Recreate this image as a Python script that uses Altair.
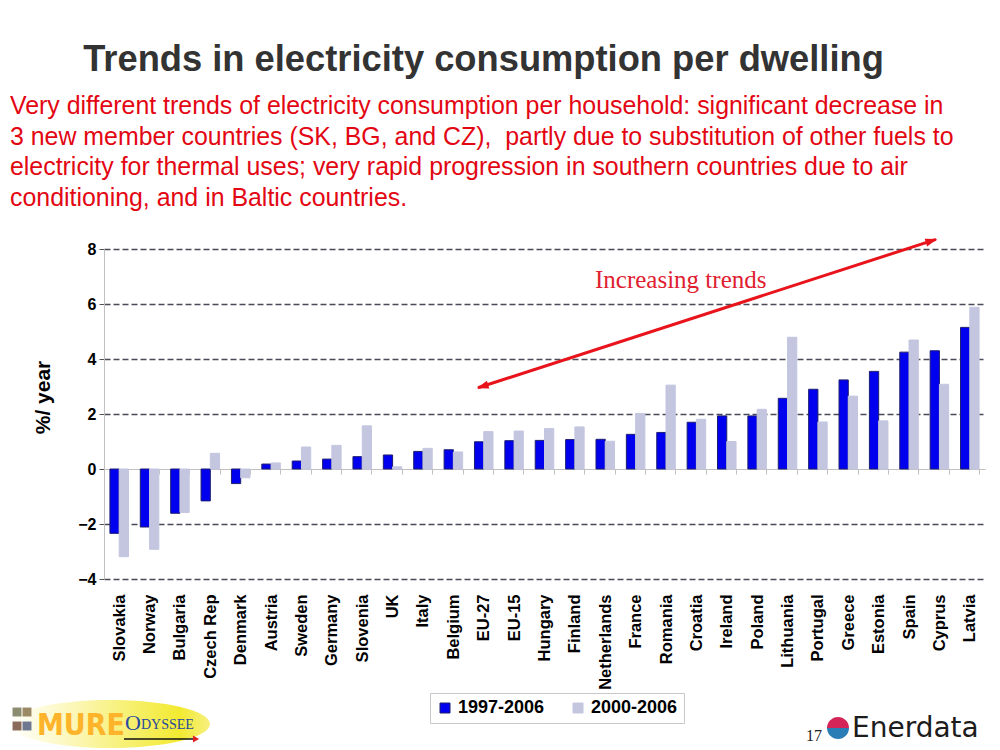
import altair as alt
import pandas as pd

countries = ["Slovakia", "Norway", "Bulgaria", "Czech Rep", "Denmark", "Austria", "Sweden",
             "Germany", "Slovenia", "UK", "Italy", "Belgium", "EU-27", "EU-15", "Hungary",
             "Finland", "Netherlands", "France", "Romania", "Croatia", "Ireland", "Poland",
             "Lithuania", "Portugal", "Greece", "Estonia", "Spain", "Cyprus", "Latvia"]
v1997 = [-2.34, -2.11, -1.61, -1.16, -0.53, 0.18, 0.29, 0.36, 0.45, 0.51, 0.64, 0.70, 0.99,
         1.03, 1.04, 1.07, 1.08, 1.26, 1.33, 1.70, 1.93, 1.93, 2.57, 2.90, 3.24, 3.55, 4.25,
         4.30, 5.15]
v2000 = [-3.19, -2.92, -1.58, 0.57, -0.32, 0.22, 0.80, 0.86, 1.57, 0.08, 0.75, 0.62, 1.36,
         1.38, 1.47, 1.53, 1.01, 2.02, 3.05, 1.81, 1.00, 2.17, 4.79, 1.71, 2.65, 1.75, 4.69,
         3.08, 5.88]
periods = ["1997-2006", "2000-2006"]
y_ticks = [-4, -2, 0, 2, 4, 6, 8]

title_text = "Trends in electricity consumption per dwelling"
subtitle_lines = [
    "Very different trends of electricity consumption per household: significant decrease in",
    "3 new member countries (SK, BG, and CZ),\u00a0 partly due to substitution of other fuels to",
    "electricity for thermal uses; very rapid progression in southern countries due to air",
    "conditioning, and in Baltic countries.",
]
annotation_text = "Increasing trends"
y_title = "%/ year"

rows = []
for c, a, b in zip(countries, v1997, v2000):
    rows.append({"country": c, "period": periods[0], "value": a})
    rows.append({"country": c, "period": periods[1], "value": b})
df = pd.DataFrame(rows)
one = pd.DataFrame({"k": [0]})

FONT = "Liberation Sans"
RED = "#E8131B"
BLUE = "#0000EE"
GREY = "#C4C6E0"

legend_cfg = dict(orient="none", legendX=326, legendY=444, direction="horizontal", title=None,
                  fillColor="white", strokeColor="#c8c8c8", padding=6, symbolType="square",
                  symbolSize=100, labelFont=FONT, labelFontSize=18, labelFontWeight="bold",
                  labelColor="black", columnPadding=24, symbolStrokeWidth=1, labelOffset=4)

bars = alt.Chart(df).mark_bar(strokeWidth=1).encode(
    x=alt.X("country:N", sort=countries,
            scale=alt.Scale(paddingInner=0.39, paddingOuter=0.195),
            axis=alt.Axis(title=None, labelAngle=-90, labelFont=FONT, labelFontSize=16.5,
                          labelFontWeight="bold", labelColor="black", offset=-110,
                          domainColor="#c0c0c0", tickColor="#c0c0c0", tickSize=5,
                          tickBand="extent", labelPadding=120, labelAlign="right",
                          labelBaseline="middle", labelOverlap=False, labelLimit=300,
                          grid=False)),
    xOffset=alt.XOffset("period:N", sort=periods,
                        scale=alt.Scale(paddingInner=0, paddingOuter=0)),
    y=alt.Y("value:Q", scale=alt.Scale(domain=[-4, 8], nice=False),
            axis=alt.Axis(values=y_ticks, title=y_title, titleFont=FONT, titleFontSize=21,
                          titleFontWeight="bold", titleColor="black", titleX=-61, titleY=148,
                          titleAlign="center", titleBaseline="middle", titleAngle=270,
                          labelFont=FONT, labelFontSize=16, labelFontWeight="bold",
                          labelColor="black", labelPadding=3, tickSize=5, tickColor="#555555",
                          domainColor="#c0c0c0", grid=True, gridDash=[6, 3], gridWidth=1.3,
                          gridColor={"condition": {"test": "datum.value === 0",
                                                   "value": "transparent"},
                                     "value": "#4a4a5a"})),
    fill=alt.Fill("period:N", sort=periods,
                  scale=alt.Scale(domain=periods, range=[BLUE, GREY]),
                  legend=alt.Legend(**legend_cfg)),
    stroke=alt.Stroke("period:N", sort=periods,
                      scale=alt.Scale(domain=periods, range=["#1E1E70", GREY]),
                      legend=alt.Legend(**legend_cfg)),
)

title = alt.Chart(one).mark_text(text=title_text, font=FONT, fontSize=36.3, fontWeight="bold",
                                 color="#333333", align="center", baseline="alphabetic").encode(
    x=alt.value(379.5), y=alt.value(-178))

subtitle = alt.Chart(one).mark_text(text=subtitle_lines, font=FONT, fontSize=24.9,
                                    color="#E30613", align="left", baseline="alphabetic",
                                    lineHeight=30.7).encode(
    x=alt.value(-94), y=alt.value(-135))

arrow_line = alt.Chart(one).mark_rule(color=RED, strokeWidth=3).encode(
    x=alt.value(374), y=alt.value(138.8), x2=alt.value(832), y2=alt.value(-9.6))

head_path = "M0,0 L0.8,2.4 L-0.8,2.4 Z"
head_r = alt.Chart(one).mark_point(shape=head_path, size=100, filled=True, color=RED,
                                   opacity=1, angle=72.2).encode(
    x=alt.value(833.3), y=alt.value(-10))
head_l = alt.Chart(one).mark_point(shape=head_path, size=100, filled=True, color=RED,
                                   opacity=1, angle=252.2).encode(
    x=alt.value(372.7), y=alt.value(139.3))

annot = alt.Chart(one).mark_text(text=annotation_text, font="Liberation Serif", fontSize=25,
                                 color="#E02030", align="left", baseline="alphabetic").encode(
    x=alt.value(491), y=alt.value(39))

# MURE / ODYSSEE logo
grad = alt.LinearGradient(gradient="linear", x1=0, y1=0, x2=1, y2=0,
                          stops=[alt.GradientStop(offset=0, color="#ffffff"),
                                 alt.GradientStop(offset=0.35, color="#fbf6b0"),
                                 alt.GradientStop(offset=0.85, color="#f2ea30"),
                                 alt.GradientStop(offset=1, color="#f6f080")])
ellipse = alt.Chart(one).mark_point(shape="M-1,0 A1,0.24 0 1,1 1,0 A1,0.24 0 1,1 -1,0 Z",
                                    size=40000, filled=True, fill=grad, opacity=1,
                                    strokeWidth=0).encode(x=alt.value(6), y=alt.value(475))
icon_colors = ["#8c8c70", "#9c8a66", "#8a6a5a", "#6e7890"]
icon_pos = [(-87, 463), (-77, 463), (-87, 477), (-77, 477)]
icons = [alt.Chart(one).mark_square(size=80, color=c, opacity=1).encode(
    x=alt.value(p[0]), y=alt.value(p[1])) for c, p in zip(icon_colors, icon_pos)]
mure = alt.Chart(one).mark_text(text="MURE", font="DejaVu Sans Condensed, DejaVu Sans",
                                fontSize=30, fontWeight="bold", color="#FDB42A", align="left",
                                baseline="alphabetic").encode(x=alt.value(-67), y=alt.value(486))
ody_o = alt.Chart(one).mark_text(text="O", font="Liberation Serif", fontSize=22,
                                 color="#2848A0", align="left",
                                 baseline="alphabetic").encode(x=alt.value(21), y=alt.value(481))
ody = alt.Chart(one).mark_text(text="DYSSEE", font="Liberation Serif", fontSize=14,
                               color="#2848A0", align="left",
                               baseline="alphabetic").encode(x=alt.value(37), y=alt.value(480))
ody_line = alt.Chart(one).mark_rule(color="#111111", strokeWidth=1.5).encode(
    x=alt.value(20), x2=alt.value(90), y=alt.value(490))
ody_head = alt.Chart(one).mark_point(shape="triangle-right", size=50, filled=True,
                                     color="#E02020", opacity=1).encode(
    x=alt.value(92), y=alt.value(490))

# Enerdata logo
ener_top = alt.Chart(one).mark_point(shape="M-1,0 A1,1 0 0,1 1,0 Z", size=484, filled=True,
                                     color="#D42458", opacity=1).encode(
    x=alt.value(734), y=alt.value(479))
ener_bot = alt.Chart(one).mark_point(shape="M-1,0 A1,1 0 0,0 1,0 Z", size=484, filled=True,
                                     color="#2A7DB5", opacity=1).encode(
    x=alt.value(734), y=alt.value(479))
ener_txt = alt.Chart(one).mark_text(text="Enerdata", font="DejaVu Sans", fontSize=28,
                                    color="#1c1c1c", align="left",
                                    baseline="alphabetic").encode(x=alt.value(748), y=alt.value(488))
page_no = alt.Chart(one).mark_text(text="17", font="Liberation Serif", fontSize=16,
                                   color="#222222", align="left",
                                   baseline="alphabetic").encode(x=alt.value(702), y=alt.value(492))

chart = alt.layer(
    bars, title, subtitle, arrow_line, head_r, head_l, annot,
    ellipse, *icons, mure, ody_o, ody, ody_line, ody_head,
    ener_top, ener_bot, ener_txt, page_no,
).properties(
    width=881, height=330,
    autosize=alt.AutoSizeParams(type="none"),
    padding={"left": 104, "top": 249, "right": 15, "bottom": 171},
    background="white",
).configure_view(stroke="transparent")

chart.save("out.html", embed_options={"renderer": "svg", "actions": False})
